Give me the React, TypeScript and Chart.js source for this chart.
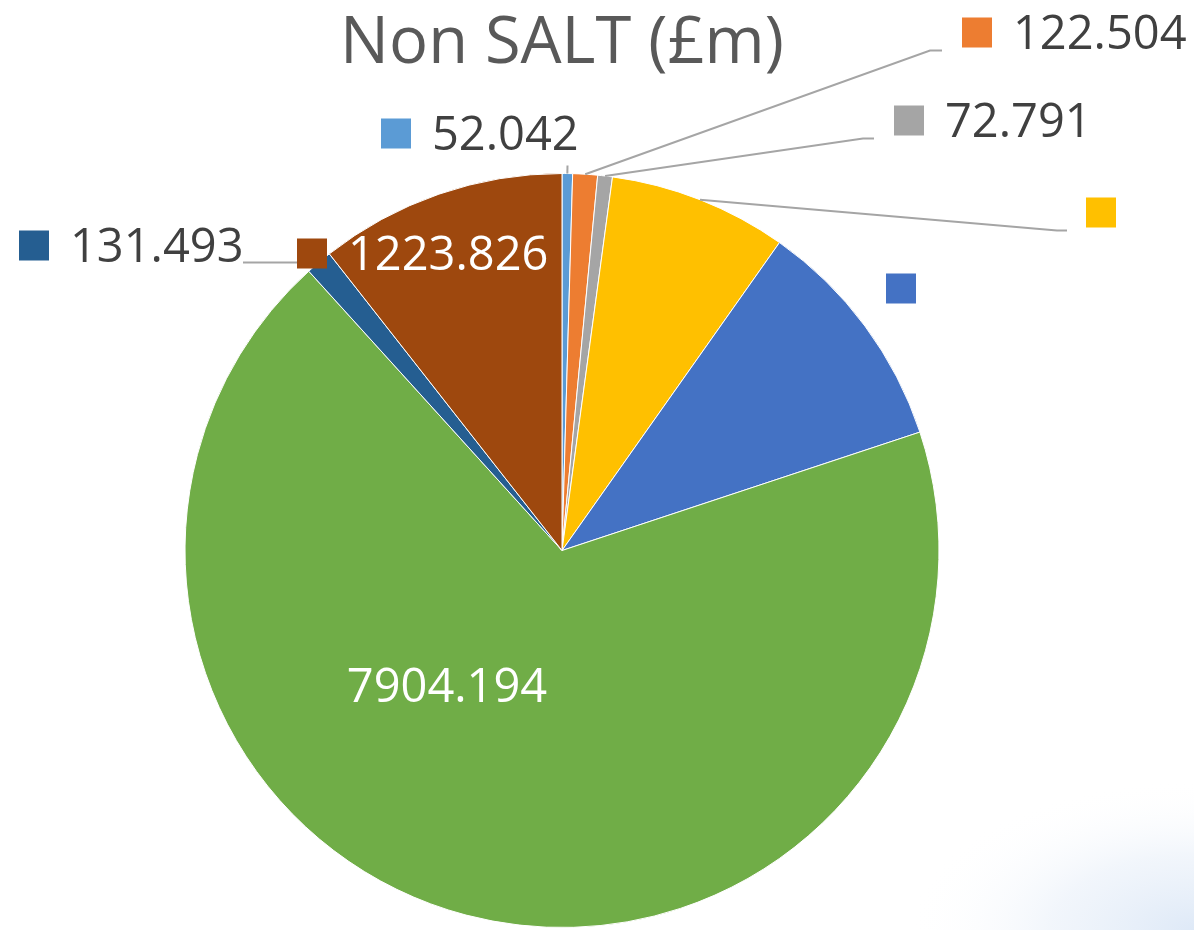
import React, { useEffect, useRef } from "react";
import { Chart, registerables } from "chart.js";

Chart.register(...registerables);

const TITLE = "Non SALT (£m)";
const categories = ["Item 1", "Item 2", "Item 3", "Item 4", "Item 5", "Item 6", "Item 7", "Item 8"];
const values = [52.042, 122.504, 72.791, 884.2, 1171.0, 7904.194, 131.493, 1223.826];
const showValue = [true, true, true, false, false, true, true, true];
const colors = ["#5B9BD5", "#ED7D31", "#A5A5A5", "#FFC000", "#4472C4", "#70AD47", "#255E91", "#9E480E"];

// label layout: offsets from pie centre (square left x, vertical centre y)
const labelLayout = [
  { key: true, x: -181, y: -417, color: "#404040", align: "left" },
  { key: true, x: 400, y: -518, color: "#404040", align: "left" },
  { key: true, x: 332, y: -430, color: "#404040", align: "left" },
  { key: true, x: 524, y: -338, color: "#404040", align: "left" },
  { key: true, x: 324, y: -262, color: "#404040", align: "left" },
  { key: false, x: -115, y: 135, color: "#FFFFFF", align: "center" },
  { key: true, x: -543, y: -305, color: "#404040", align: "left" },
  { key: true, x: -265, y: -297, color: "#FFFFFF", align: "left" },
];
// leader line points (offsets from pie centre), starting at the arc's outer mid point
const leaders: (number[][] | null)[] = [
  [[5.5, -385]],
  [[368, -500], [380, -500]],
  [[301, -412], [312, -412]],
  [[495, -320], [505, -320]],
  null,
  null,
  [[-262, -288], [-319, -288]],
  null,
];

const FONT = '"Open Sans", "DejaVu Sans", sans-serif';
const LABEL_SIZE = 47;
const TITLE_SIZE = 65;
const KEY = 30;
const KEY_GAP = 21;

const labelsPlugin = {
  id: "excelLabels",
  beforeDraw(chart: any) {
    const { ctx, width, height } = chart;
    ctx.save();
    ctx.fillStyle = "#FFFFFF";
    ctx.fillRect(0, 0, width, height);
    ctx.translate(width, height);
    ctx.scale(1.9, 1);
    const g = ctx.createRadialGradient(0, 0, 0, 0, 0, 150);
    g.addColorStop(0, "rgba(222,233,247,1)");
    g.addColorStop(0.5, "rgba(236,242,250,0.7)");
    g.addColorStop(1, "rgba(255,255,255,0)");
    ctx.fillStyle = g;
    ctx.fillRect(-160, -160, 160, 160);
    ctx.restore();
  },
  afterDatasetsDraw(chart: any) {
    const { ctx } = chart;
    const meta = chart.getDatasetMeta(0);
    const arcs = meta.data;
    if (!arcs.length) return;
    const c = arcs[0].getProps(["x", "y"], true);
    const cx = c.x;
    const cy = c.y;

    // title
    ctx.save();
    ctx.fillStyle = "#595959";
    ctx.font = `${TITLE_SIZE}px ${FONT}`;
    ctx.textAlign = "center";
    ctx.textBaseline = "alphabetic";
    ctx.fillText(TITLE, (chart.chartArea.left + chart.chartArea.right) / 2, 63);
    ctx.restore();

    // leaders
    ctx.save();
    ctx.strokeStyle = "#A5A5A5";
    ctx.lineWidth = 2;
    arcs.forEach((arc: any, i: number) => {
      const pts = leaders[i];
      if (!pts) return;
      const p = arc.getProps(["startAngle", "endAngle", "outerRadius"], true);
      const mid = (p.startAngle + p.endAngle) / 2;
      ctx.beginPath();
      ctx.moveTo(cx + p.outerRadius * Math.cos(mid), cy + p.outerRadius * Math.sin(mid));
      pts.forEach((q) => ctx.lineTo(cx + q[0], cy + q[1]));
      ctx.stroke();
    });
    ctx.restore();

    // labels
    ctx.save();
    ctx.font = `${LABEL_SIZE}px ${FONT}`;
    ctx.textBaseline = "alphabetic";
    labelLayout.forEach((l, i) => {
      const x = cx + l.x;
      const y = cy + l.y;
      let tx = x;
      if (l.key) {
        ctx.fillStyle = colors[i];
        ctx.fillRect(x, y - KEY / 2, KEY, KEY);
        tx = x + KEY + KEY_GAP;
      }
      if (showValue[i]) {
        ctx.fillStyle = l.color;
        ctx.textAlign = l.align as CanvasTextAlign;
        ctx.fillText(values[i].toFixed(3), tx, y + LABEL_SIZE * 0.357);
      }
    });
    ctx.restore();
  },
};

export default function App() {
  const ref = useRef<HTMLCanvasElement | null>(null);
  useEffect(() => {
    if (!ref.current) return;
    const chart = new Chart(ref.current, {
      type: "pie",
      data: {
        labels: categories,
        datasets: [
          {
            data: values,
            backgroundColor: colors,
            borderColor: "#FFFFFF",
            borderWidth: 1,
          },
        ],
      },
      options: {
        responsive: false,
        animation: false,
        layout: { padding: { top: 173, bottom: 2, left: 0, right: 70 } },
        plugins: {
          legend: { display: false },
          tooltip: { enabled: false },
          title: { display: false },
        },
      },
      plugins: [labelsPlugin],
    });
    return () => chart.destroy();
  }, []);
  return (
    <div style={{ position: "absolute", left: 0, top: 0, width: 1194, height: 930 }}>
      <canvas ref={ref} width={1194} height={930} />
    </div>
  );
}
